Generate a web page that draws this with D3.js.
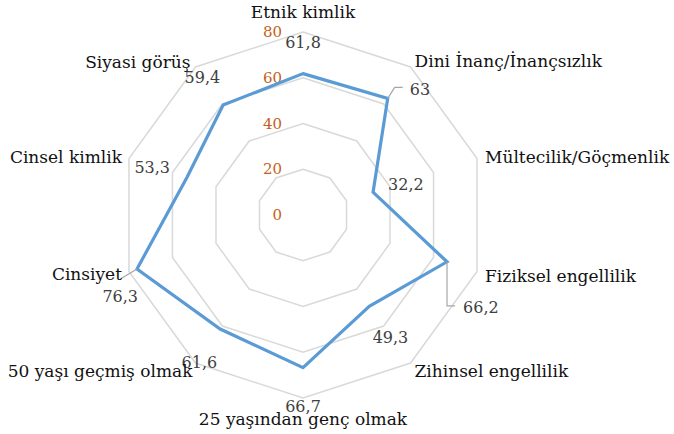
<!DOCTYPE html>
<html>
<head>
<meta charset="utf-8">
<script src="https://cdn.jsdelivr.net/npm/d3@7"></script>
<style>
  body { margin: 0; background: #fff; }
  svg text { font-family: 'DejaVu Serif', serif; }
</style>
</head>
<body>
<div id="chart"></div>
<script>
'use strict'

// --- data ---
var categories = ['Etnik kimlik', 'Dini İnanç/İnançsızlık', 'Mültecilik/Göçmenlik',
  'Fiziksel engellilik', 'Zihinsel engellilik', '25 yaşından genç olmak',
  '50 yaşı geçmiş olmak', 'Cinsiyet', 'Cinsel kimlik', 'Siyasi görüş']
var values = [61.8, 63, 32.2, 66.2, 49.3, 66.7, 61.6, 76.3, 53.3, 59.4]
var value_texts = ['61,8', '63', '32,2', '66,2', '49,3', '66,7', '61,6', '76,3', '53,3', '59,4']
var ticks = [0, 20, 40, 60, 80]

// --- layout (offsets of labels, in px) ---
var cat_pos = [[0, -14, 'middle'], [4, 0, 'start'], [8, 5, 'start'], [8, 10, 'start'],
  [4, 14, 'start'], [0, 27, 'middle'], [-3, 14, 'end'], [-7, 8, 'end'], [-7, 5, 'end'], [-5, 1, 'end']]
var val_pos = [[0, -26, 'middle'], [22, -3, 'start'], [15, -2, 'start'], [16, 51, 'start'],
  [39, 37, 'end'], [0, 44, 'middle'], [-3, 39, 'end'], [1, 33, 'end'], [-17, -4, 'end'], [-3, -22, 'end']]
var leaders = { 1: [[0, 0], [7, -11], [15, -11]], 3: [[0, 0], [0, 44], [8, 44]], 7: [[0, 0], [-15, 9]] }

var W = 674, H = 434
var cx = 303, cy = 215

var svg = d3.select('#chart').append('svg')
  .attr('width', W).attr('height', H)
var g = svg.append('g').attr('transform', 'translate(' + cx + ',' + cy + ')')

var r = d3.scaleLinear().domain([0, 80]).range([0, 183])
var ang = d3.scaleLinear().domain([0, categories.length]).range([0, 2 * Math.PI])

function pt(i, v) {
  var a = ang(i)
  return [r(v) * Math.sin(a), -r(v) * Math.cos(a)]
}

// grid rings
ticks.slice(1).forEach(function(t) {
  g.append('path')
    .attr('d', d3.lineRadial().curve(d3.curveLinearClosed)
      .angle(function(d, i) { return ang(i) })
      .radius(function() { return r(t) })(categories))
    .attr('fill', 'none').attr('stroke', '#d9d9d9').attr('stroke-width', 1.5)
})

// tick labels
g.selectAll('text.tick').data(ticks).enter().append('text')
  .attr('class', 'tick')
  .attr('x', -21).attr('y', function(d) { return -r(d) + 5 })
  .attr('text-anchor', 'end')
  .attr('font-size', 15).attr('fill', '#c65f1c')
  .text(function(d) { return d })

// data line
g.append('path')
  .datum(values)
  .attr('d', d3.lineRadial().curve(d3.curveLinearClosed)
    .angle(function(d, i) { return ang(i) })
    .radius(function(d) { return r(d) }))
  .attr('fill', 'none').attr('stroke', '#5b9bd5').attr('stroke-width', 3.2)
  .attr('stroke-linejoin', 'miter')

// leader lines
Object.keys(leaders).forEach(function(k) {
  var p = pt(+k, values[k])
  g.append('path')
    .attr('d', d3.line()(leaders[k].map(function(o) { return [p[0] + o[0], p[1] + o[1]] })))
    .attr('fill', 'none').attr('stroke', '#a6a6a6').attr('stroke-width', 1.2)
})

// value labels
values.forEach(function(v, i) {
  var p = pt(i, v), o = val_pos[i]
  g.append('text')
    .attr('x', p[0] + o[0]).attr('y', p[1] + o[1])
    .attr('text-anchor', o[2])
    .attr('font-size', 16).attr('fill', '#404040')
    .text(value_texts[i])
})

// category labels
categories.forEach(function(c, i) {
  var p = pt(i, 80), o = cat_pos[i]
  g.append('text')
    .attr('x', p[0] + o[0]).attr('y', p[1] + o[1])
    .attr('text-anchor', o[2])
    .attr('font-size', 17).attr('fill', '#111')
    .text(c)
})
</script>
</body>
</html>
